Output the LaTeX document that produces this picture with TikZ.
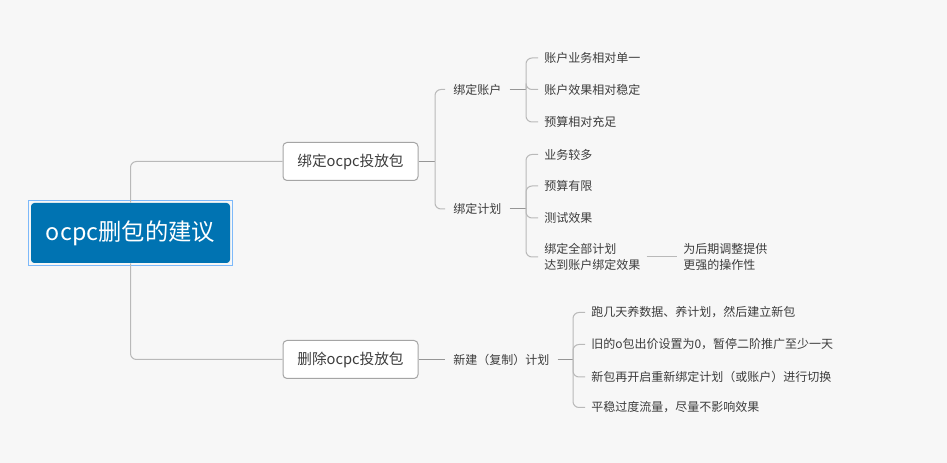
\documentclass[tikz,border=0pt]{standalone}
\usepackage{fontspec}
\setmainfont{Noto Sans CJK SC}
\usetikzlibrary{positioning}
\definecolor{cBg}{RGB}{247,247,247}
\definecolor{cRoot}{RGB}{0,115,178}
\definecolor{cSel}{RGB}{125,185,250}
\definecolor{cBox}{RGB}{165,165,165}
\definecolor{cLink}{RGB}{185,185,185}
\definecolor{cStem}{RGB}{150,150,150}
\definecolor{cText}{RGB}{60,60,60}
\tikzset{
  rootbox/.style={
    rectangle, rounded corners=2.5pt, fill=cRoot, text=white,
    font=\fontsize{17.5}{21}\selectfont,
    minimum width=149.25pt, minimum height=45pt, inner sep=0pt,
  },
  topic/.style={
    rectangle, rounded corners=3pt, draw=cBox, line width=0.75pt, fill=white,
    text=cText, font=\fontsize{11}{13}\selectfont,
    minimum width=101.25pt, minimum height=28.5pt, inner sep=0pt,
  },
  subtopic/.style={anchor=west, text=cText, font=\fontsize{9}{12}\selectfont,
    inner xsep=6pt, inner ysep=1pt},
  leaf/.style={anchor=west, align=left, text=cText, font=\fontsize{9}{12}\selectfont,
    inner xsep=4.5pt, inner ysep=1pt},
  link/.style={draw=cLink, line width=0.75pt, rounded corners=4.5pt},
  stemline/.style={draw=cStem, line width=0.75pt},
}

\begin{document}
\begin{tikzpicture}[x=0.75pt, y=-0.75pt]
\fill[cBg] (0,0) rectangle (947,463);
\useasboundingbox (0,0) rectangle (947,463);

% ===== root and main topics =====
\node[rootbox] (root) at (130.5,233) {ocpc删包的建议};
\draw[cSel, line width=0.75pt] ([shift={(-2,-2)}]root.north west) rectangle ([shift={(2,2)}]root.south east);

\node[topic] (bind) at (350.5,161.5) {绑定ocpc投放包};
\node[topic] (del) at (350.5,359.5) {删除ocpc投放包};

% ===== second level =====
\node[subtopic] (acct) at (445,89.5) {绑定账户};
\node[subtopic] (plan) at (445,209) {绑定计划};
\node[subtopic] (newp) at (445,359.5) {新建（复制）计划};

% ===== leaves of 绑定账户 =====
\node[leaf] (a1) at (538,58) {账户业务相对单一};
\node[leaf] (a2) at (538,89.5) {账户效果相对稳定};
\node[leaf] (a3) at (538,122) {预算相对充足};

% ===== leaves of 绑定计划 =====
\node[leaf] (p1) at (538,154.5) {业务较多};
\node[leaf] (p2) at (538,186) {预算有限};
\node[leaf] (p3) at (538,218) {测试效果};
\node[leaf] (p4) at (538,257) {绑定全部计划\\达到账户绑定效果};
\node[leaf] (extra) at (677,257) {为后期调整提供\\更强的操作性};

% ===== leaves of 新建计划 =====
\node[leaf] (n1) at (585,312.5) {跑几天养数据、养计划，然后建立新包};
\node[leaf] (n2) at (585,344.5) {旧的o包出价设置为0，暂停二阶推广至少一天};
\node[leaf] (n3) at (585,377) {新包再开启重新绑定计划（或账户）进行切换};
\node[leaf] (n4) at (585,407.5) {平稳过度流量，尽量不影响效果};

% ===== junctions =====
\coordinate (bindJ) at (435,161.5);
\coordinate (acctJ) at (526,89.5);
\coordinate (planJ) at (526,209);
\coordinate (newJ) at (573,359.5);

% ===== connectors =====
\draw[link] (root.north) |- (bind.west);
\draw[link] (root.south) |- (del.west);

\draw[stemline] (bind.east) -- (bindJ);
\draw[link] (bindJ) |- (acct.west);
\draw[link] (bindJ) |- (plan.west);
\draw[stemline] (del.east) -- (newp.west);

\draw[stemline] (acct.east) -- (acctJ);
\draw[link] (acctJ) |- (a1.west);
\draw[link] (acctJ) |- (a2.west);
\draw[link] (acctJ) |- (a3.west);

\draw[stemline] (plan.east) -- (planJ);
\draw[link] (planJ) |- (p1.west);
\draw[link] (planJ) |- (p2.west);
\draw[link] (planJ) |- (p3.west);
\draw[link] (planJ) |- (p4.west);
\draw[link] (p4.east) -- (extra.west);

\draw[stemline] (newp.east) -- (newJ);
\draw[link] (newJ) |- (n1.west);
\draw[link] (newJ) |- (n2.west);
\draw[link] (newJ) |- (n3.west);
\draw[link] (newJ) |- (n4.west);

\end{tikzpicture}
\end{document}
